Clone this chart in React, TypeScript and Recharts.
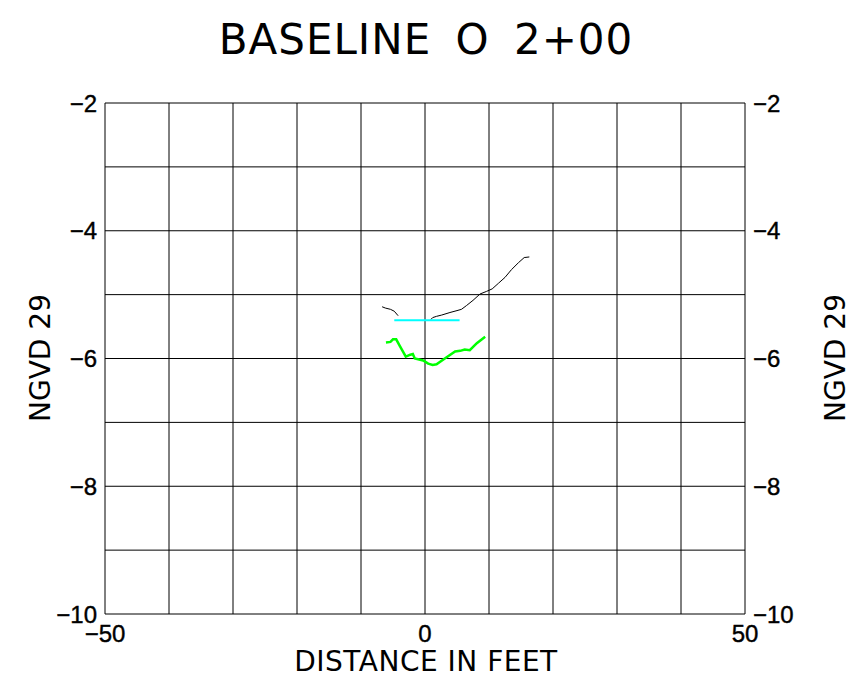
import { LineChart, Line, XAxis, YAxis, CartesianGrid } from "recharts";

// distance (ft) vs elevation (NGVD 29)
const blackWest = [
	{ x: -6.7, y: -5.19 },
	{ x: -6.2, y: -5.21 },
	{ x: -5.4, y: -5.23 },
	{ x: -4.8, y: -5.26 },
	{ x: -4.2, y: -5.33 },
];

const blackEast = [
	{ x: 0.9, y: -5.39 },
	{ x: 1.2, y: -5.36 },
	{ x: 1.8, y: -5.34 },
	{ x: 2.6, y: -5.32 },
	{ x: 3.9, y: -5.28 },
	{ x: 5.0, y: -5.25 },
	{ x: 5.7, y: -5.23 },
	{ x: 6.5, y: -5.17 },
	{ x: 7.5, y: -5.09 },
	{ x: 8.6, y: -4.99 },
	{ x: 9.6, y: -4.95 },
	{ x: 10.5, y: -4.91 },
	{ x: 11.5, y: -4.82 },
	{ x: 12.5, y: -4.73 },
	{ x: 13.5, y: -4.61 },
	{ x: 14.6, y: -4.5 },
	{ x: 15.5, y: -4.42 },
	{ x: 16.3, y: -4.41 },
];

const waterLevel = [
	{ x: -4.8, y: -5.4 },
	{ x: 5.4, y: -5.4 },
];

const greenProfile = [
	{ x: -6.1, y: -5.75 },
	{ x: -5.4, y: -5.74 },
	{ x: -5.0, y: -5.7 },
	{ x: -4.5, y: -5.7 },
	{ x: -3.9, y: -5.81 },
	{ x: -3.0, y: -5.97 },
	{ x: -2.3, y: -5.94 },
	{ x: -1.9, y: -5.93 },
	{ x: -1.6, y: -6.0 },
	{ x: -0.3, y: -6.03 },
	{ x: 0.5, y: -6.08 },
	{ x: 1.2, y: -6.1 },
	{ x: 1.8, y: -6.09 },
	{ x: 3.1, y: -6.0 },
	{ x: 4.7, y: -5.89 },
	{ x: 5.5, y: -5.88 },
	{ x: 6.2, y: -5.86 },
	{ x: 7.0, y: -5.87 },
	{ x: 8.1, y: -5.76 },
	{ x: 9.4, y: -5.66 },
];

const xLabelTicks = [-50, 0, 50];
const yLabelTicks = [-10, -8, -6, -4, -2];
const xGrid = [-50, -40, -30, -20, -10, 0, 10, 20, 30, 40, 50];
const yGrid = [-10, -9, -8, -7, -6, -5, -4, -3, -2];

const fmt = (v: number) => (v < 0 ? `\u2212${Math.abs(v)}` : `${v}`);

const tickFont = "'Liberation Sans', Arial, sans-serif";
const labelFont = "'DejaVu Sans', sans-serif";

const makeTick = (anchor: "start" | "middle" | "end") => (props: any) => (
	<text
		x={props.x}
		y={props.y}
		textAnchor={anchor}
		dominantBaseline="central"
		fontFamily={tickFont}
		fontSize={24}
		fill="#000"
		stroke="#000"
		strokeWidth={0.4}
	>
		{fmt(props.payload.value)}
	</text>
);

const labelStyle = {
	position: "absolute" as const,
	fontFamily: labelFont,
	color: "#000",
	whiteSpace: "nowrap" as const,
};

export default function App() {
	return (
		<div style={{ position: "absolute", left: 0, top: 0, background: "#fff" }}>
			<div style={{ position: "relative", width: 852, height: 693 }}>
				<div
					style={{
						...labelStyle,
						left: 0,
						top: 16,
						width: 852,
						textAlign: "center",
						fontSize: 42,
						letterSpacing: 1,
						wordSpacing: 10,
						lineHeight: "48px",
					}}
				>
					BASELINE O 2+00
				</div>
				<LineChart
					width={852}
					height={693}
					margin={{ top: 103, left: 45, right: 47, bottom: 39 }}
				>
					<CartesianGrid
						horizontalValues={yGrid}
						verticalValues={xGrid}
						stroke="#000"
						strokeWidth={1}
						yAxisId="left"
					/>
					<XAxis
						type="number"
						dataKey="x"
						domain={[-50, 50]}
						ticks={xLabelTicks}
						height={40}
						axisLine={false}
						tickLine={false}
						tickSize={0}
						tickMargin={19}
						tick={makeTick("middle")}
						interval={0}
						allowDataOverflow
					/>
					<YAxis
						yAxisId="left"
						type="number"
						domain={[-10, -2]}
						ticks={yLabelTicks}
						width={60}
						axisLine={false}
						tickLine={false}
						tickSize={0}
						tickMargin={8}
						tick={makeTick("end")}
						interval={0}
						allowDataOverflow
					/>
					<YAxis
						yAxisId="right"
						orientation="right"
						type="number"
						domain={[-10, -2]}
						ticks={yLabelTicks}
						width={60}
						axisLine={false}
						tickLine={false}
						tickSize={0}
						tickMargin={8}
						tick={makeTick("start")}
						interval={0}
						allowDataOverflow
					/>
					<Line
						yAxisId="left"
						data={blackWest}
						dataKey="y"
						stroke="#000"
						strokeWidth={1}
						dot={false}
						isAnimationActive={false}
					/>
					<Line
						yAxisId="left"
						data={blackEast}
						dataKey="y"
						stroke="#000"
						strokeWidth={1}
						dot={false}
						isAnimationActive={false}
					/>
					<Line
						yAxisId="left"
						data={waterLevel}
						dataKey="y"
						stroke="#00ffff"
						strokeWidth={2}
						dot={false}
						isAnimationActive={false}
					/>
					<Line
						yAxisId="left"
						data={greenProfile}
						dataKey="y"
						stroke="#00ff00"
						strokeWidth={2.5}
						dot={false}
						isAnimationActive={false}
					/>
				</LineChart>
				<div
					style={{
						...labelStyle,
						left: 0,
						top: 646,
						width: 852,
						textAlign: "center",
						fontSize: 28,
						letterSpacing: 0.5,
						lineHeight: "32px",
					}}
				>
					DISTANCE IN FEET
				</div>
				<div
					style={{
						...labelStyle,
						left: 40,
						top: 358,
						transform: "translate(-50%, -50%) rotate(-90deg)",
						fontSize: 28,
					}}
				>
					NGVD 29
				</div>
				<div
					style={{
						...labelStyle,
						left: 835,
						top: 358,
						transform: "translate(-50%, -50%) rotate(-90deg)",
						fontSize: 28,
					}}
				>
					NGVD 29
				</div>
			</div>
		</div>
	);
}
